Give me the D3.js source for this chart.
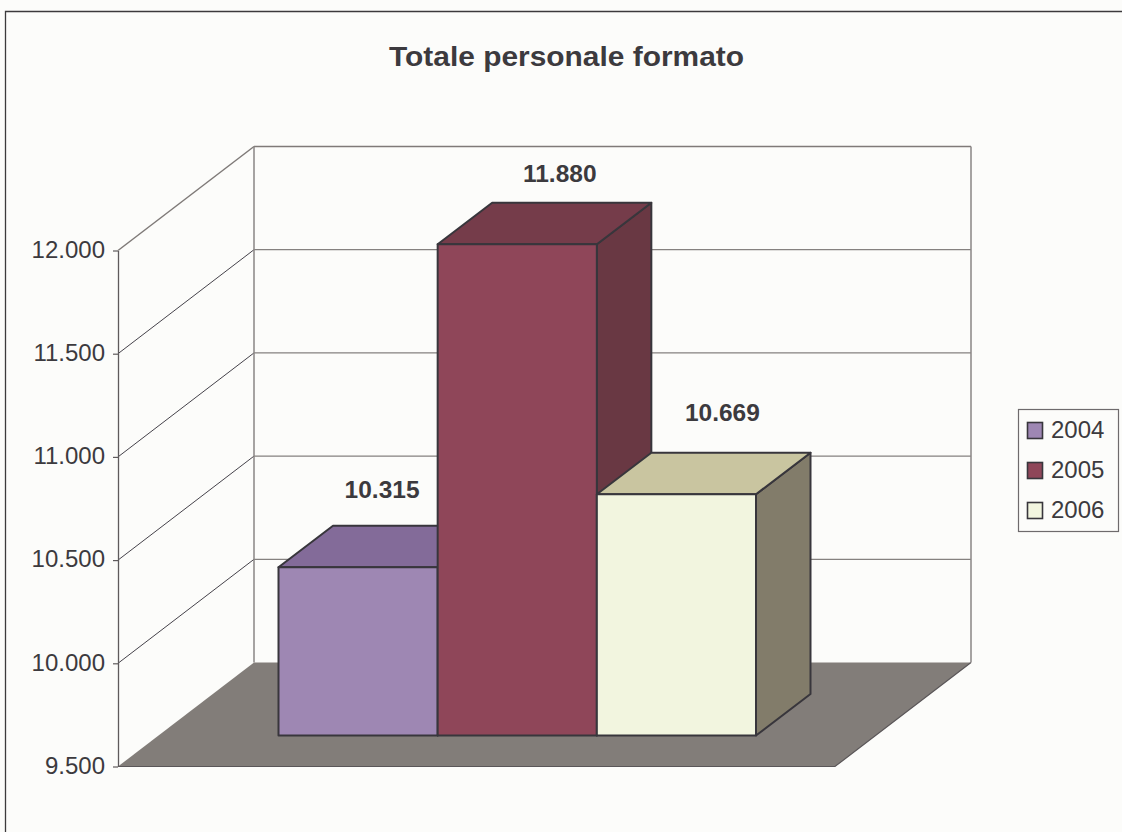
<!DOCTYPE html>
<html>
<head>
<meta charset="utf-8">
<title>Totale personale formato</title>
<script src="https://cdn.jsdelivr.net/npm/d3@7"></script>
<style>
    html, body { margin: 0; padding: 0; background: #fcfcfa; }
    svg { display: block; }
    text { font-family: "Liberation Sans", Arial, sans-serif; fill: #3c3a3e; }
</style>
</head>
<body>
<div id="chart"></div>
<script>
(function () {
    var years = ['2004', '2005', '2006'];
    var values = [10315, 11880, 10669];
    var yTicks = [9500, 10000, 10500, 11000, 11500, 12000];
    var frontColors = ['#9e87b3', '#8f4659', '#f2f5df'];
    var topColors = ['#836b99', '#753c4a', '#c9c5a0'];
    var sideColors = ['#6e5a80', '#693843', '#827c6a'];

    var width = 1122, height = 832;

    var wallX = 118, wallRight = 835;          // fronte del piano
    var depthX = 136, depthY = 104;            // profondita' del grafico
    var barDepthX = 54.5, barDepthY = 41.5;    // profondita' delle barre
    var barFrontShift = 31;                    // barre rientrate rispetto al fronte
    var labelDx = [24, 42.5, 46];              // etichette rispetto al centro barra
    var labelDy = [69, 62, 73];

    var y = d3.scaleLinear().domain([9500, 12000]).range([766.5, 250.5]);
    var x = d3.scaleBand().domain(years).range([278.5, 756]);

    var it = d3.formatLocale({ decimal: ',', thousands: '.', grouping: [3], currency: ['', '€'] });
    var fmt = it.format(',d');

    var svg = d3.select('#chart')
        .append('svg')
        .attr('width', width)
        .attr('height', height)
        .attr('viewBox', '0 0 ' + width + ' ' + height);

    function pts(list) {
        return list.map(function (p) { return p.join(','); }).join(' ');
    }

    // cornice
    svg.append('path')
        .attr('d', 'M5.5,' + height + 'V11.5H' + width)
        .attr('fill', 'none')
        .attr('stroke', '#3c3a3c')
        .attr('stroke-width', 1.3);

    // titolo, nel riferimento e' leggermente allargato
    var title = svg.append('text')
        .attr('x', 566.5)
        .attr('y', 66)
        .attr('text-anchor', 'middle')
        .attr('font-size', 28)
        .attr('font-weight', 'bold')
        .text('Totale personale formato');
    title.attr('textLength', 355).attr('lengthAdjust', 'spacingAndGlyphs');

    /* Piano di fondo */
    svg.append('polygon')
        .attr('points', pts([
            [wallX, y(9500)],
            [wallX + depthX, y(9500) - depthY],
            [wallRight + depthX, y(9500) - depthY],
            [wallRight, y(9500)]
        ]))
        .attr('fill', '#827d79');

    svg.append('path')
        .attr('d', 'M' + wallX + ',' + y(9500) + 'H' + wallRight + 'L' + (wallRight + depthX) + ',' + (y(9500) - depthY))
        .attr('fill', 'none')
        .attr('stroke', '#5a5658')
        .attr('stroke-width', 1.2);

    /* Griglia */
    yTicks.forEach(function (t) {
        if (t === 9500) return;
        var top = t === 12000;
        svg.append('line')
            .attr('x1', wallX)
            .attr('y1', y(t))
            .attr('x2', wallX + depthX)
            .attr('y2', y(t) - depthY)
            .attr('stroke', top ? '#7f7a78' : '#45424a')
            .attr('stroke-width', top ? 1.5 : 1);

        svg.append('line')
            .attr('x1', wallX + depthX)
            .attr('y1', y(t) - depthY)
            .attr('x2', wallRight + depthX)
            .attr('y2', y(t) - depthY)
            .attr('stroke', top ? '#7f7a78' : '#85817f')
            .attr('stroke-width', top ? 1.5 : 1.2);
    });

    svg.append('path')
        .attr('d', 'M' + (wallX + depthX) + ',' + (y(9500) - depthY) + 'V' + (y(12000) - depthY))
        .attr('fill', 'none')
        .attr('stroke', '#8a8684')
        .attr('stroke-width', 1.5);
    svg.append('path')
        .attr('d', 'M' + (wallRight + depthX) + ',' + (y(9500) - depthY) + 'V' + (y(12000) - depthY))
        .attr('fill', 'none')
        .attr('stroke', '#8a8684')
        .attr('stroke-width', 1.5);

    /* Asse Y */
    var axis = svg.append('g')
        .attr('transform', 'translate(' + wallX + ',0)')
        .call(d3.axisLeft(y).tickValues(yTicks).tickFormat(fmt).tickSize(5).tickSizeOuter(0));
    axis.select('.domain').attr('stroke', '#5e5a5c').attr('stroke-width', 1.3);
    axis.selectAll('.tick line').attr('stroke', '#5e5a5c').attr('stroke-width', 1.2);
    axis.selectAll('.tick text')
        .attr('x', -13)
        .attr('dy', '0.28em')
        .attr('font-size', 24)
        .attr('font-family', '"Liberation Sans", Arial, sans-serif')
        .style('fill', '#3c3a3e');

    /* Barre */
    var base = y(9500) - barFrontShift;
    years.forEach(function (year, i) {
        var x0 = x(year);
        var x1 = x0 + x.bandwidth();
        var yTop = y(values[i]) - barFrontShift;

        var bar = svg.append('g')
            .attr('stroke', '#38363c')
            .attr('stroke-width', 2)
            .attr('stroke-linejoin', 'round');

        bar.append('polygon')
            .attr('points', pts([
                [x1, yTop],
                [x1 + barDepthX, yTop - barDepthY],
                [x1 + barDepthX, base - barDepthY],
                [x1, base]
            ]))
            .attr('fill', sideColors[i]);

        bar.append('polygon')
            .attr('points', pts([
                [x0, yTop],
                [x0 + barDepthX, yTop - barDepthY],
                [x1 + barDepthX, yTop - barDepthY],
                [x1, yTop]
            ]))
            .attr('fill', topColors[i]);

        bar.append('rect')
            .attr('x', x0)
            .attr('y', yTop)
            .attr('width', x1 - x0)
            .attr('height', base - yTop)
            .attr('fill', frontColors[i]);

        svg.append('text')
            .attr('class', 'value')
            .attr('x', (x0 + x1) / 2 + labelDx[i])
            .attr('y', yTop - labelDy[i])
            .attr('text-anchor', 'middle')
            .attr('font-size', 24.5)
            .attr('font-weight', 'bold')
            .text(fmt(values[i]));
    });

    /* Legenda */
    var legend = svg.append('g').attr('transform', 'translate(1019,410)');
    legend.append('rect')
        .attr('x', -0.5)
        .attr('y', -0.5)
        .attr('width', 100)
        .attr('height', 122)
        .attr('fill', 'none')
        .attr('stroke', '#6e6a6c')
        .attr('stroke-width', 1.2);

    years.forEach(function (year, i) {
        legend.append('rect')
            .attr('x', 8.5)
            .attr('y', 12.5 + i * 40)
            .attr('width', 15)
            .attr('height', 16)
            .attr('fill', frontColors[i])
            .attr('stroke', '#38363c')
            .attr('stroke-width', 1.6);

        legend.append('text')
            .attr('x', 32)
            .attr('y', 28 + i * 40)
            .attr('font-size', 24)
            .text(year);
    });
})();
</script>
</body>
</html>
